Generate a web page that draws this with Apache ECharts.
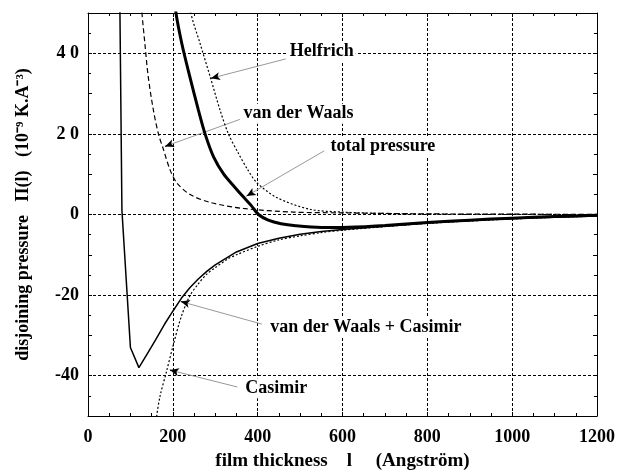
<!DOCTYPE html>
<html>
<head>
<meta charset="utf-8">
<script src="https://cdn.jsdelivr.net/npm/echarts@6/dist/echarts.min.js"></script>
<style>
  html, body { margin: 0; padding: 0; background: #fff; }
  #chart { width: 633px; height: 476px; }
</style>
</head>
<body>
<div id="chart"></div>
<script>
// tick labels of the two axes
const xTickValues = [0, 200, 400, 600, 800, 1000, 1200];
const xTickLabels = ['0', '200', '400', '600', '800', '1000', '1200'];
const yTickValues = [-40, -20, 0, 20, 40];
const yTickLabels = ['-40', '-20', '0', '2 0', '4 0'];

// Helfrich (dotted)
const helfrichX = [230, 242, 264, 288, 311, 331, 354, 376, 398, 445, 523, 600, 700, 800, 1000, 1200];
const helfrichY = [62, 50.3, 42.5, 34.2, 26, 20, 15.3, 11.2, 7.9, 4.2, 1.3, 0.6, 0.25, 0.1, 0.02, 0];

// van der Waals (dashed)
const vdwX = [115, 127, 134, 142, 154, 166, 178, 193, 209, 240, 288, 366, 484, 600, 800, 1000, 1200];
const vdwY = [68, 50.3, 42.5, 34.2, 26, 20, 16.1, 11.2, 7.9, 5.0, 3.0, 1.5, 0.6, 0.4, 0.15, 0.08, 0.05];

// total pressure (thick)
const totalX = [195, 207, 221, 240, 260, 276, 296, 320, 345, 365, 385, 402, 425, 455, 490, 550, 600, 700, 800, 900, 1000, 1100, 1200];
const totalY = [62, 50.3, 42.5, 34.2, 26, 20, 14.3, 10.0, 6.9, 4.5, 2.2, 0, -1.4, -2.3, -2.8, -3.2, -3.2, -2.7, -2.0, -1.4, -0.9, -0.5, -0.2];

// van der Waals + Casimir (thin solid)
const vdwCasX = [60, 80, 100, 120, 140, 160, 180, 200, 220, 240, 260, 280, 300, 350, 400, 450, 500, 550, 600, 700, 800, 900, 1000, 1100, 1200];
const vdwCasY = [210, 1, -33, -38, -34.5, -31, -27.3, -24, -20.8, -18.2, -16, -14.1, -12.5, -9.3, -7.2, -5.9, -4.9, -4.2, -3.7, -2.9, -2.1, -1.5, -1.0, -0.7, -0.4];

// Casimir (dotted)
const casimirX = [150, 162, 170, 185, 200, 220, 240, 260, 280, 300, 330, 350, 400, 450, 500, 550, 600, 700, 800, 900, 1000, 1100, 1200];
const casimirY = [-62, -50, -45, -39, -32.8, -25.3, -20.2, -17.2, -14.8, -13.2, -11.0, -10.0, -7.9, -6.3, -5.3, -4.5, -3.9, -3.0, -2.2, -1.6, -1.1, -0.7, -0.4];

// annotations: text, text left-middle point, arrow start, arrow tip
const noteText = ['Helfrich', 'van der Waals', 'total pressure', 'van der Waals + Casimir', 'Casimir'];
const noteAt = [[471, 40.6], [362, 25], [567, 16.9], [425, -28.1], [366, -43.1]];
const arrowFrom = [[466, 38.6], [358, 23.6], [557, 15.8], [410, -27.2], [352, -42.8]];
const arrowTo = [[290, 33.8], [181.5, 16.9], [374, 4.6], [219, -21.6], [193, -38.6]];

const font = "'Liberation Serif', 'Times New Roman', serif";
const zip = (xs, ys) => xs.map((x, i) => [x, ys[i]]);

const chart = echarts.init(document.getElementById('chart'));

function lineSeries(name, xs, ys, width, type, smooth) {
  return {
    name: name,
    type: 'line',
    data: zip(xs, ys),
    showSymbol: false,
    smooth: smooth,
    clip: true,
    lineStyle: { color: '#000', width: width, type: type },
    z: 5
  };
}

const frameAxis = {
  axisLine: { show: true, onZero: false, lineStyle: { color: '#000', width: 1 } },
  axisTick: { show: true, inside: true, length: 4, lineStyle: { color: '#000' } },
  minorTick: { show: true, length: 3, lineStyle: { color: '#000' } }
};

const series = [
  lineSeries('Helfrich', helfrichX, helfrichY, 1.2, [2, 2], 0.3),
  lineSeries('van der Waals', vdwX, vdwY, 1.2, [5, 3], 0.3),
  lineSeries('total pressure', totalX, totalY, 3, 'solid', 0.3),
  lineSeries('van der Waals + Casimir', vdwCasX, vdwCasY, 1.5, 'solid', false),
  lineSeries('Casimir', casimirX, casimirY, 1.2, [2, 2], 0.3)
];
// grey leader lines
series[0].markLine = {
  silent: true, symbol: 'none', label: { show: false },
  lineStyle: { color: '#999', width: 1, type: 'solid' },
  data: arrowFrom.map((f, i) => [{ coord: f }, { coord: arrowTo[i] }])
};
// black arrow heads on the last bit of each leader
series[1].markLine = {
  silent: true, symbol: ['none', 'arrow'], symbolSize: [6, 9], label: { show: false },
  lineStyle: { color: '#000', width: 1, type: 'solid' },
  data: arrowFrom.map((f, i) => {
    const t = arrowTo[i];
    const s = [t[0] + (f[0] - t[0]) * 0.03, t[1] + (f[1] - t[1]) * 0.03];
    return [{ coord: s }, { coord: t }];
  })
};

chart.setOption({
  animation: false,
  backgroundColor: '#fff',
  grid: { left: 88, right: 36, top: 13, bottom: 59 },
  xAxis: [
    Object.assign({}, frameAxis, {
      type: 'value', position: 'bottom', min: 0, max: 1200, interval: 200,
      minorTick: Object.assign({}, frameAxis.minorTick, { splitNumber: 4 }),
      axisLabel: {
        margin: 12, color: '#000', fontFamily: font, fontWeight: 'bold', fontSize: 18,
        formatter: v => xTickLabels[xTickValues.indexOf(v)]
      },
      splitLine: { show: true, lineStyle: { color: '#000', width: 1, type: [3, 2] } },
      name: 'film thickness    l     (Angström)',
      nameLocation: 'middle', nameGap: 36,
      nameTextStyle: { color: '#000', fontFamily: font, fontWeight: 'bold', fontSize: 19 }
    }),
    Object.assign({}, frameAxis, {
      type: 'value', position: 'top', min: 0, max: 1200, interval: 200,
      minorTick: Object.assign({}, frameAxis.minorTick, { splitNumber: 4 }),
      axisLabel: { show: false }, splitLine: { show: false }
    })
  ],
  yAxis: [
    Object.assign({}, frameAxis, {
      type: 'value', position: 'left', min: -50, max: 50, interval: 10,
      minorTick: Object.assign({}, frameAxis.minorTick, { splitNumber: 2 }),
      axisLabel: {
        margin: 9, color: '#000', fontFamily: font, fontWeight: 'bold', fontSize: 18,
        formatter: v => { const i = yTickValues.indexOf(v); return i < 0 ? '' : yTickLabels[i]; }
      },
      splitLine: {
        show: true, showMinLine: true, showMaxLine: true,
        lineStyle: { color: ['rgba(0,0,0,0)', '#000'], width: 1, type: [3, 2] }
      },
      name: 'disjoining pressure   Π(l)   (10⁻⁹ K.A⁻³)',
      nameLocation: 'middle', nameGap: 56, nameRotate: 90,
      nameTextStyle: { color: '#000', fontFamily: font, fontWeight: 'bold', fontSize: 18 }
    }),
    Object.assign({}, frameAxis, {
      type: 'value', position: 'right', min: -50, max: 50, interval: 10,
      minorTick: Object.assign({}, frameAxis.minorTick, { splitNumber: 2 }),
      axisLabel: { show: false }, splitLine: { show: false }
    })
  ],
  series: series
});

// annotation texts placed through the axes' scales
chart.setOption({
  graphic: noteText.map((t, i) => {
    const p = chart.convertToPixel({ gridIndex: 0 }, noteAt[i]);
    return {
      type: 'text', x: p[0], y: p[1], z: 100, silent: true,
      style: {
        text: t, fill: '#000', fontFamily: font, fontWeight: 'bold', fontSize: 18,
        verticalAlign: 'middle', align: 'left', backgroundColor: '#fff', padding: [1, 2]
      }
    };
  })
});
</script>
</body>
</html>
